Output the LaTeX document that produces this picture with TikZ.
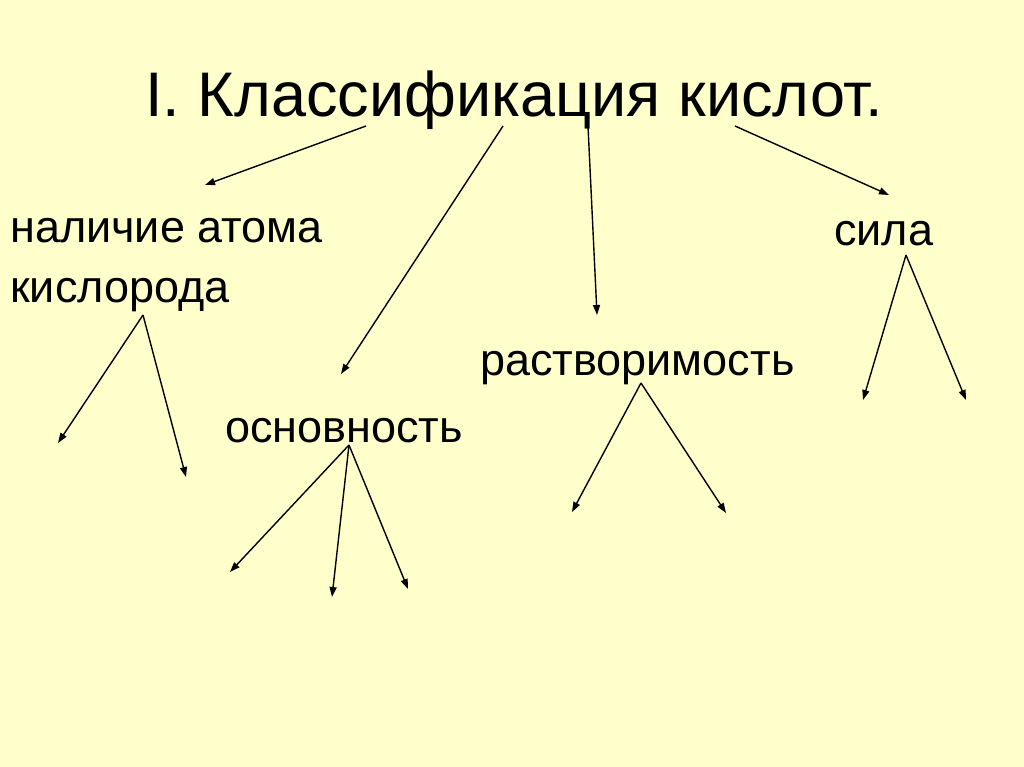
\documentclass[tikz,border=0pt]{standalone}
\usepackage{fontspec}
\setmainfont{Liberation Sans}
\usetikzlibrary{arrows.meta}
\definecolor{bg}{HTML}{FFFFCC}
\begin{document}
\begin{tikzpicture}[x=1pt,y=-1pt,
  lbl/.style={anchor=base west,inner sep=0pt,font=\fontsize{45}{45}\selectfont},
  ttl/.style={anchor=base west,inner sep=0pt,font=\fontsize{63}{63}\selectfont},
  arr/.style={line width=1.4pt,-{Triangle[length=10pt,width=7pt]}}]
\fill[bg] (0,0) rectangle (1024,767);
\useasboundingbox (0,0) rectangle (1024,767);
\node[ttl] (title) at (145,117) {I. Классификация кислот.};
\node[lbl] (nal) at (10,243) {наличие атома};
\node[lbl] (kis) at (10,302) {кислорода};
\node[lbl] (sila) at (834,245) {сила};
\node[lbl] (rast) at (480,375) {растворимость};
\node[lbl] (osn) at (225,442) {основность};
% start points
\coordinate (t1) at (366,126);
\coordinate (t2) at (503,126);
\coordinate (t3) at (588,126);
\coordinate (t4) at (735,126);
\coordinate (k0) at (143,315);
\coordinate (s0) at (906,255);
\coordinate (r0) at (641,383);
\coordinate (o0) at (349,445);
% end points
\coordinate (e1) at (205,185);
\coordinate (e2) at (341,374);
\coordinate (e3) at (597,315);
\coordinate (e4) at (889,195);
\coordinate (k1) at (58,443);
\coordinate (k2) at (186,477);
\coordinate (s1) at (863,400);
\coordinate (s2) at (966,400);
\coordinate (r1) at (572,512);
\coordinate (r2) at (726,513);
\coordinate (o1) at (230,572);
\coordinate (o2) at (332,597);
\coordinate (o3) at (408,589);
\draw[arr] (t1) -- (e1);
\draw[arr] (t2) -- (e2);
\draw[arr] (t3) -- (e3);
\draw[arr] (t4) -- (e4);
\draw[arr] (k0) -- (k1);
\draw[arr] (k0) -- (k2);
\draw[arr] (s0) -- (s1);
\draw[arr] (s0) -- (s2);
\draw[arr] (r0) -- (r1);
\draw[arr] (r0) -- (r2);
\draw[arr] (o0) -- (o1);
\draw[arr] (o0) -- (o2);
\draw[arr] (o0) -- (o3);
\end{tikzpicture}
\end{document}
